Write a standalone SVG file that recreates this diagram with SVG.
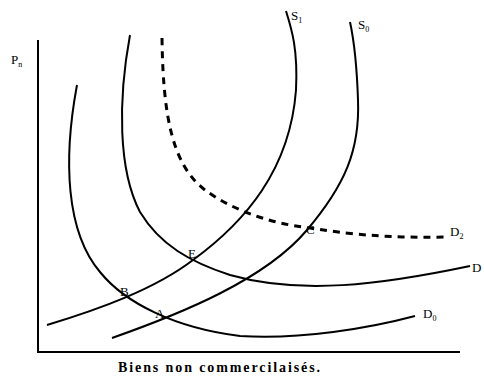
<svg xmlns="http://www.w3.org/2000/svg" width="484" height="377" viewBox="0 0 484 377">
<style>
.c{fill:none;stroke:#000;stroke-width:2}
.d{fill:none;stroke:#000;stroke-width:3;stroke-dasharray:7,6}
.t{font-family:"Liberation Serif",serif;font-size:13px;fill:#000}
.s{font-family:"Liberation Serif",serif;font-size:8px;fill:#000}
.cap{font-family:"Liberation Serif",serif;font-size:14px;font-weight:bold;fill:#000}
</style>
<rect width="484" height="377" fill="#fff"/>
<g id="axes">
<path d="M38,40 V352 H460" fill="none" stroke="#000" stroke-width="2"/>
<text class="t" x="11" y="64" font-size="12">P<tspan class="s" dy="3">n</tspan></text>
<text class="cap" x="118" y="372" textLength="202" lengthAdjust="spacing">Biens non commercilaisés.</text>
</g>
<g id="connectors">
<path id="D0" class="c" d="M77,85 C63,160 66,232 100,272 C125,303 175,328 240,336 C300,340 370,328 415,316"/>
<path id="D" class="c" d="M130,35 C118,100 118,170 140,212 C160,245 190,262 230,275 C300,295 380,285 470,266"/>
<path id="D2" class="d" d="M162,38 C163,115 172,165 205,190 C228,207 265,223 310,228 C360,236 400,238 445,237"/>
<path id="S1" class="c" d="M47,325 C100,309 155,289 193,260 C245,222 290,170 296,90 C298,50 292,30 286,11"/>
<path id="S0" class="c" d="M112,338 C180,314 265,280 307,230 C345,185 360,150 358,100 C357,70 355,45 350,22"/>
</g>
<g id="labels">
<text class="t" x="291" y="20">S<tspan class="s" dy="3">1</tspan></text>
<text class="t" x="358" y="29">S<tspan class="s" dy="3">0</tspan></text>
<text class="t" x="120" y="296">B</text>
<text class="t" x="155" y="318">A</text>
<text class="t" x="188" y="258">E</text>
<text class="t" x="306" y="234">C</text>
<text class="t" x="450" y="236">D<tspan class="s" dy="3">2</tspan></text>
<text class="t" x="472" y="272">D</text>
<text class="t" x="423" y="318">D<tspan class="s" dy="3">0</tspan></text>
</g>
</svg>
